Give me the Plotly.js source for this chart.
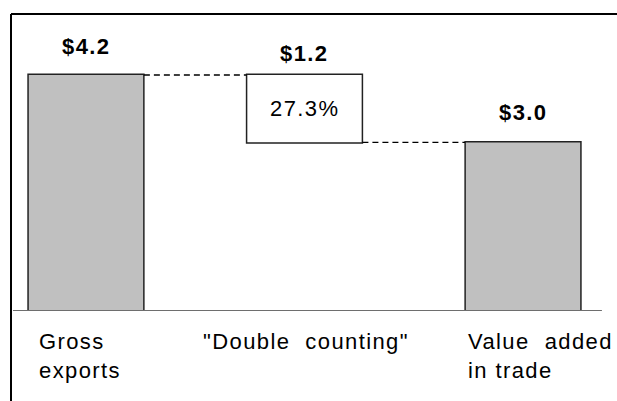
<!DOCTYPE html>
<html>
<head>
<meta charset="utf-8">
<script src="https://cdn.plot.ly/plotly-3.0.1.min.js"></script>
<style>
html,body{margin:0;padding:0;background:#fff;}
#chart{width:617px;height:401px;}
text.annotation-text{letter-spacing:1.4px;}
</style>
</head>
<body>
<div id="chart"></div>
<script>
// ---- data ----
const categories = ['Gross<br>exports', '"Double  counting"', 'Value  added<br>in trade'];
const values = [4.2, -1.2, 3.0];
const measures = ['absolute', 'relative', 'total'];
const valueLabels = ['$4.2', '$1.2', '$3.0'];
const shareLabel = '27.3%';

// ---- derived bar extents (from data) ----
const tops = [], bottoms = [];
let run = 0;
values.forEach((v, i) => {
  if (measures[i] === 'absolute') { bottoms.push(0); run = v; tops.push(v); }
  else if (measures[i] === 'relative') { const s = run; run += v; tops.push(Math.max(s, run)); bottoms.push(Math.min(s, run)); }
  else { bottoms.push(0); tops.push(run); }
});

const idx = categories.map((_, i) => i);
const font = 'Liberation Sans, Arial, sans-serif';
const outline = {color: '#222', width: 1.5};

const trace = {
  type: 'waterfall',
  x: idx,
  y: values,
  measure: measures,
  width: 0.53,
  increasing: {marker: {color: '#c0c0c0', line: outline}},
  decreasing: {marker: {color: '#ffffff', line: outline}},
  totals: {marker: {color: '#c0c0c0', line: outline}},
  connector: {mode: 'between', line: {color: '#000', width: 1.3, dash: '6px,4px'}},
  hoverinfo: 'skip',
  textinfo: 'none'
};

const labelShift = [29, 22, 30];
const annotations = [];
valueLabels.forEach((t, i) => {
  annotations.push({x: i, y: tops[i], xref: 'x', yref: 'y', text: '<b>' + t + '</b>',
    showarrow: false, yanchor: 'middle', yshift: labelShift[i],
    font: {family: font, size: 22, color: '#000'}});
});
annotations.push({x: 1, y: (tops[1] + bottoms[1]) / 2, xref: 'x', yref: 'y', text: shareLabel,
  showarrow: false, font: {family: font, size: 22, color: '#000'}});

const catShift = [-49, -103, -57];
categories.forEach((c, i) => {
  annotations.push({x: i, y: 0, xref: 'x', yref: 'paper', text: c, showarrow: false,
    xanchor: 'left', yanchor: 'top', align: 'left', xshift: catShift[i], yshift: -16,
    font: {family: font, size: 22, color: '#000'}});
});

const shapes = [
  {type: 'line', xref: 'x', yref: 'y', x0: -0.334, x1: 2.361, y0: 0, y1: 0, line: {color: '#6e6e6e', width: 2}},
  {type: 'line', xref: 'paper', yref: 'paper', x0: 0, x1: 1.01, y0: 1, y1: 1, line: {color: '#000', width: 2}},
  {type: 'line', xref: 'paper', yref: 'paper', x0: 0, x1: 0, y0: 1, y1: -0.32, line: {color: '#000', width: 2}}
];

const layout = {
  width: 617, height: 401,
  margin: {l: 11, r: 0, t: 14, b: 90},
  paper_bgcolor: '#fff', plot_bgcolor: '#fff',
  showlegend: false,
  xaxis: {range: [-0.343, 2.43], showgrid: false, zeroline: false, showticklabels: false, ticks: '', showline: false, fixedrange: true},
  yaxis: {range: [0, 5.286], showgrid: false, zeroline: false, showticklabels: false, ticks: '', showline: false, fixedrange: true},
  annotations: annotations,
  shapes: shapes
};

Plotly.newPlot('chart', [trace], layout, {staticPlot: true, displayModeBar: false});
</script>
</body>
</html>
